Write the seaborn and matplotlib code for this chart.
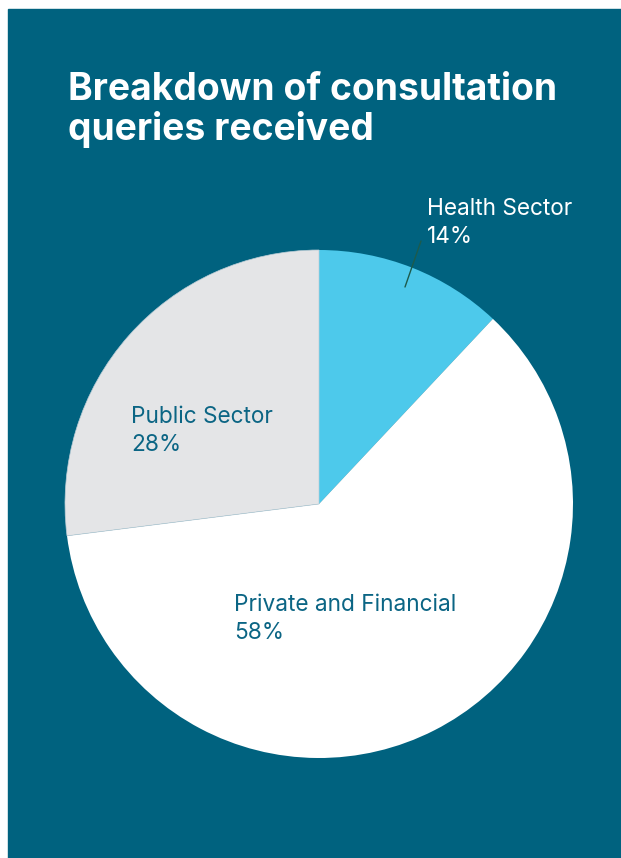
import numpy as np
import matplotlib as mpl; mpl.use("Agg")
import matplotlib.pyplot as plt
import seaborn as sns

# ---- data ----
SECTORS = ["Health Sector", "Private and Financial", "Public Sector"]
SHARES = [12, 61, 27]                 # wedge sizes as drawn
PCT_LABELS = ["14%", "58%", "28%"]    # printed percentages
TITLE = "Breakdown of consultation\nqueries received"

BG = "#00627F"
COLORS = ["#4DC9EB", "#FFFFFF", "#E4E5E7"]
LABEL_COL = ["#FFFFFF", "#0B6584", "#0B6584"]

sns.set_theme(style="white")
plt.rcParams["font.family"] = ["Inter", "DejaVu Sans"]

W, H = 621, 858
fig = plt.figure(figsize=(W/100, H/100), dpi=100, facecolor="white")
def fx(x): return x / W
def fy(y): return 1 - y / H

# dark panel
fig.patches.append(plt.Rectangle((fx(8), 0), 1 - fx(8), fy(9), transform=fig.transFigure,
                                 color=BG, zorder=-5))

# pie axes: centre (319,504) px, radius 254 px
cx, cy, r = 319, 504, 254
ax = fig.add_axes([fx(cx - r), fy(cy + r), 2*r/W, 2*r/H])
ax.set_zorder(2)
wedges, _ = ax.pie(SHARES, colors=COLORS, startangle=90, counterclock=False, radius=1,
                   wedgeprops=dict(linewidth=0))
wedges[2].set_edgecolor("#B9CCD6"); wedges[2].set_linewidth(0.5)
ax.set_xlim(-1, 1); ax.set_ylim(-1, 1)
ax.set_aspect("equal"); ax.axis("off")

# title (va=baseline aligns the last line)
fig.text(fx(68), fy(140), TITLE, color="white", fontsize=26.8, fontweight="bold",
         ha="left", va="baseline", linespacing=1.1, zorder=5)

# slice labels (baseline of first line)
pos = {"Health Sector": (427, 215), "Private and Financial": (234, 611), "Public Sector": (131, 423)}
for name, pct, col in zip(SECTORS, PCT_LABELS, LABEL_COL):
    x, y = pos[name]
    fig.text(fx(x), fy(y), name, color=col, fontsize=16.3, ha="left", va="baseline", zorder=5)
    fig.text(fx(x), fy(y + 28), pct, color=col, fontsize=16.3, ha="left", va="baseline", zorder=5)

# leader line for the health sector label
fig.add_artist(plt.Line2D([fx(405), fx(421)], [fy(287), fy(241)], transform=fig.transFigure,
                          color="#1D5B4C", lw=1.0, zorder=5))

fig.savefig("out.png", dpi=100, facecolor="white")
